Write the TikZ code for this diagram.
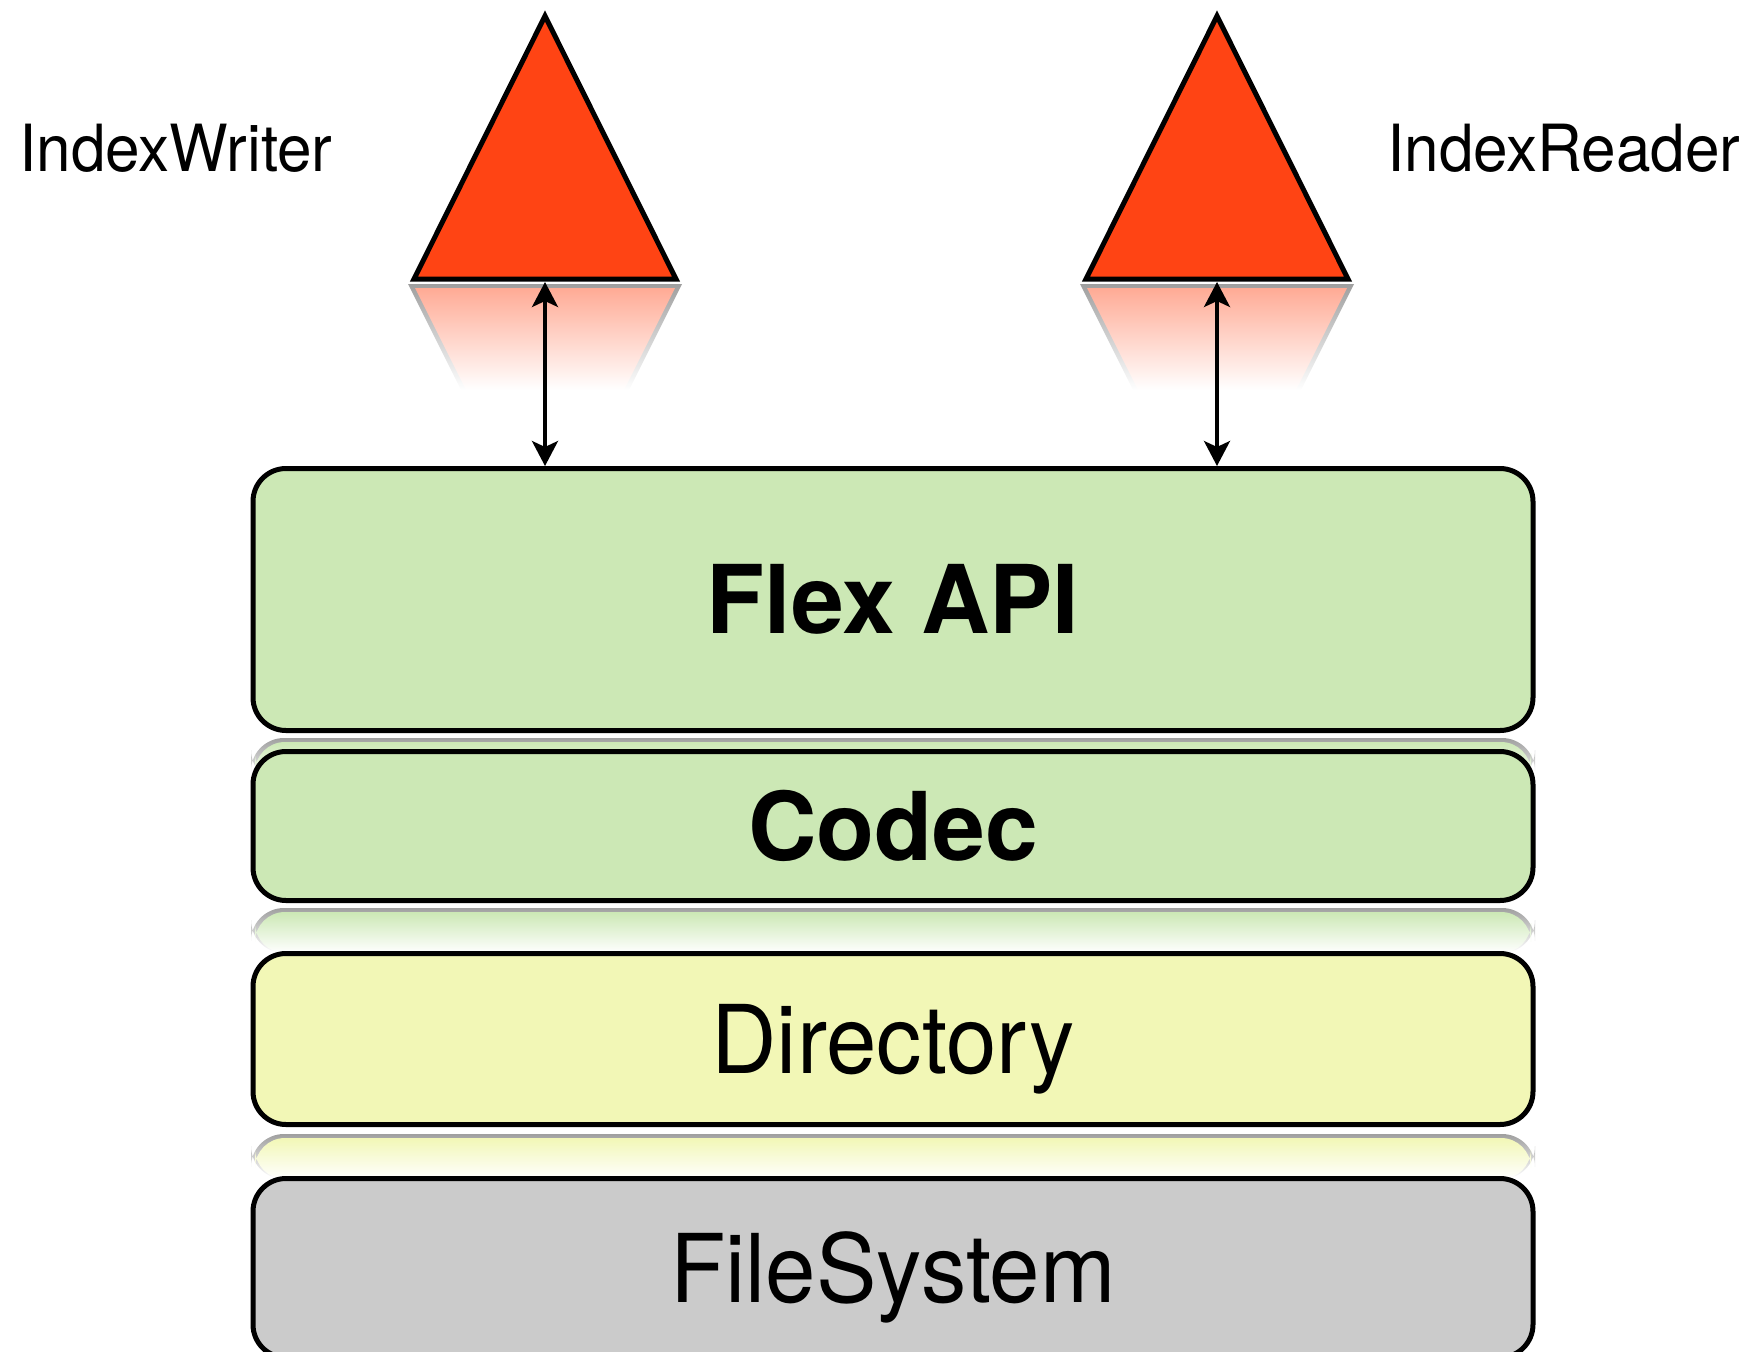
\documentclass[tikz,border=0pt]{standalone}
\usepackage{fontspec}
\setmainfont{TeX Gyre Heros}
\newfontfamily\thinfont[FakeStretch=0.955]{TeX Gyre Heros}
\usetikzlibrary{arrows.meta}

\definecolor{flexred}{RGB}{255,68,20}
\definecolor{apigreen}{RGB}{204,232,181}
\definecolor{diryellow}{RGB}{242,247,182}
\definecolor{fsgray}{RGB}{203,203,203}

\tikzset{
  layer/.style={draw, line width=0.1cm, rounded corners=0.66cm, minimum width=25.6cm,
    inner sep=0pt, text height=1.36cm, text depth=0pt},
  boldtext/.style={font=\bfseries\fontsize{54}{60}\selectfont},
  thintext/.style={font=\thinfont\fontsize{54}{60}\selectfont},
  caption/.style={font=\thinfont\fontsize{37}{42}\selectfont, anchor=base},
  link/.style={line width=0.07cm,
    {Stealth[length=0.5cm,width=0.52cm,inset=0.12cm]}-{Stealth[length=0.5cm,width=0.52cm,inset=0.12cm]}},
  rim/.style={top color=gray!75, bottom color=white},
  mirror/.style={top color=#1, bottom color=white}
}

\begin{document}
\begin{tikzpicture}
\useasboundingbox (0,0) rectangle (35,-27.04);

% mirror images under the two triangles
\shade[rim] (8.16,-5.68) -- (13.64,-5.68) -- (12.58,-7.8) -- (9.22,-7.8) -- cycle;
\shade[mirror=flexred!45] (8.3,-5.76) -- (13.5,-5.76) -- (12.48,-7.8) -- (9.32,-7.8) -- cycle;
\shade[rim] (21.6,-5.68) -- (27.08,-5.68) -- (26.02,-7.8) -- (22.66,-7.8) -- cycle;
\shade[mirror=flexred!45] (21.74,-5.76) -- (26.94,-5.76) -- (25.92,-7.8) -- (22.76,-7.8) -- cycle;

% writer / reader
\draw[line width=0.1cm, fill=flexred] (10.9,-0.32) -- (13.52,-5.58) -- (8.28,-5.58) -- cycle;
\draw[line width=0.1cm, fill=flexred] (24.34,-0.32) -- (26.96,-5.58) -- (21.72,-5.58) -- cycle;
\coordinate (wbase) at (10.9,-5.64);
\coordinate (rbase) at (24.34,-5.64);

\node[caption] (writer) at (3.52,-3.42) {IndexWriter};
\node[caption] (reader) at (31.28,-3.42) {IndexReader};

% mirror images under the layers
\shade[rim, rounded corners=0.66cm] (5.02,-14.76) rectangle (30.7,-15.66);
\shade[mirror=apigreen, rounded corners=0.6cm] (5.1,-14.84) rectangle (30.62,-15.66);
\shade[rim, rounded corners=0.66cm] (5.02,-18.16) rectangle (30.7,-19.06);
\shade[mirror=apigreen, rounded corners=0.6cm] (5.1,-18.24) rectangle (30.62,-19.06);
\shade[rim, rounded corners=0.66cm] (5.02,-22.68) rectangle (30.7,-23.58);
\shade[mirror=diryellow, rounded corners=0.6cm] (5.1,-22.76) rectangle (30.62,-23.58);

% the stack
\node[layer, boldtext, fill=apigreen, minimum height=5.24cm] (api) at (17.86,-11.99) {Flex API};
\node[layer, boldtext, fill=apigreen, minimum height=2.98cm] (codec) at (17.86,-16.52) {Codec};
\node[layer, thintext, fill=diryellow, minimum height=3.42cm] (dir) at (17.86,-20.78) {Directory};
\node[layer, thintext, fill=fsgray, minimum height=3.58cm] (fs) at (17.86,-25.36) {FileSystem};

\draw[link] (wbase) -- (wbase |- api.north);
\draw[link] (rbase) -- (rbase |- api.north);
\end{tikzpicture}
\end{document}
